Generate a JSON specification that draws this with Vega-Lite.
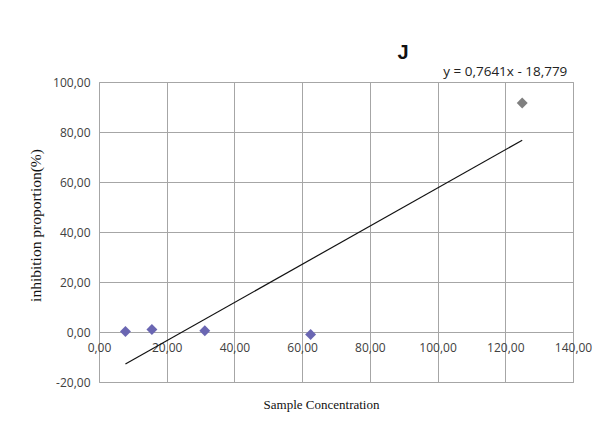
{
  "$schema": "https://vega.github.io/schema/vega-lite/v6.json",
  "autosize": "none",
  "width": 474,
  "height": 300,
  "padding": {"left": 99, "top": 82, "right": 24, "bottom": 41},
  "background": "white",
  "title": {"text": "J", "anchor": "middle", "dx": 67, "offset": 20, "dy": 18, "fontSize": 20, "fontWeight": "bold", "font": "Liberation Sans", "color": "#111111"},
  "config": {
    "view": {"stroke": "#a6a6a6", "strokeWidth": 1},
    "axis": {"gridColor": "#a6a6a6", "gridOpacity": 1, "gridWidth": 1, "domain": false, "ticks": false, "labelFlush": false, "labelOverlap": false, "labelFont": "Open Sans", "labelFontSize": 12, "labelColor": "#404040", "titleFont": "Liberation Serif", "titleFontWeight": "normal", "titleColor": "#111111"}
  },
  "layer": [
    {
      "data": {"values": [
        {"conc": 7.8125, "inhibition": 0.2, "series": "a"},
        {"conc": 15.625, "inhibition": 1.0, "series": "a"},
        {"conc": 31.25, "inhibition": 0.5, "series": "a"},
        {"conc": 62.5, "inhibition": -1.0, "series": "a"},
        {"conc": 125, "inhibition": 91.6, "series": "b"}
      ]},
      "mark": {"type": "point", "shape": "diamond", "filled": true, "size": 120, "opacity": 1},
      "encoding": {
        "x": {"field": "conc", "type": "quantitative", "scale": {"domain": [0, 140], "nice": false},
          "axis": {"values": [0, 20, 40, 60, 80, 100, 120, 140], "offset": -50, "labelPadding": 10, "labelExpr": "replace(replace(format(datum.value, '.2f'), '.', ','), '\u2212', '-')", "title": "Sample Concentration", "titleFontSize": 13, "titleX": 222, "titleY": 66}},
        "y": {"field": "inhibition", "type": "quantitative", "scale": {"domain": [-20, 100], "nice": false},
          "axis": {"values": [-20, 0, 20, 40, 60, 80, 100], "labelPadding": 9, "labelExpr": "replace(replace(format(datum.value, '.2f'), '.', ','), '\u2212', '-')", "title": "inhibition proportion(%)", "titleFontSize": 15.5, "titleX": -56, "titleY": 143}},
        "color": {"field": "series", "type": "nominal", "scale": {"domain": ["a", "b"], "range": ["#6a66b2", "#7f7f7f"]}, "legend": null}
      }
    },
    {
      "data": {"values": [
        {"conc": 7.8125, "inhibition": -12.81},
        {"conc": 125, "inhibition": 76.73}
      ]},
      "mark": {"type": "line", "color": "#111111", "strokeWidth": 1.2},
      "encoding": {
        "x": {"field": "conc", "type": "quantitative"},
        "y": {"field": "inhibition", "type": "quantitative"}
      }
    },
    {
      "data": {"values": [{"conc": 120, "inhibition": 104, "label": "y = 0,7641x - 18,779"}]},
      "mark": {"type": "text", "font": "Open Sans", "fontSize": 13.5, "color": "#222222", "clip": false, "baseline": "middle"},
      "encoding": {
        "x": {"field": "conc", "type": "quantitative"},
        "y": {"field": "inhibition", "type": "quantitative"},
        "text": {"field": "label"}
      }
    }
  ]
}
